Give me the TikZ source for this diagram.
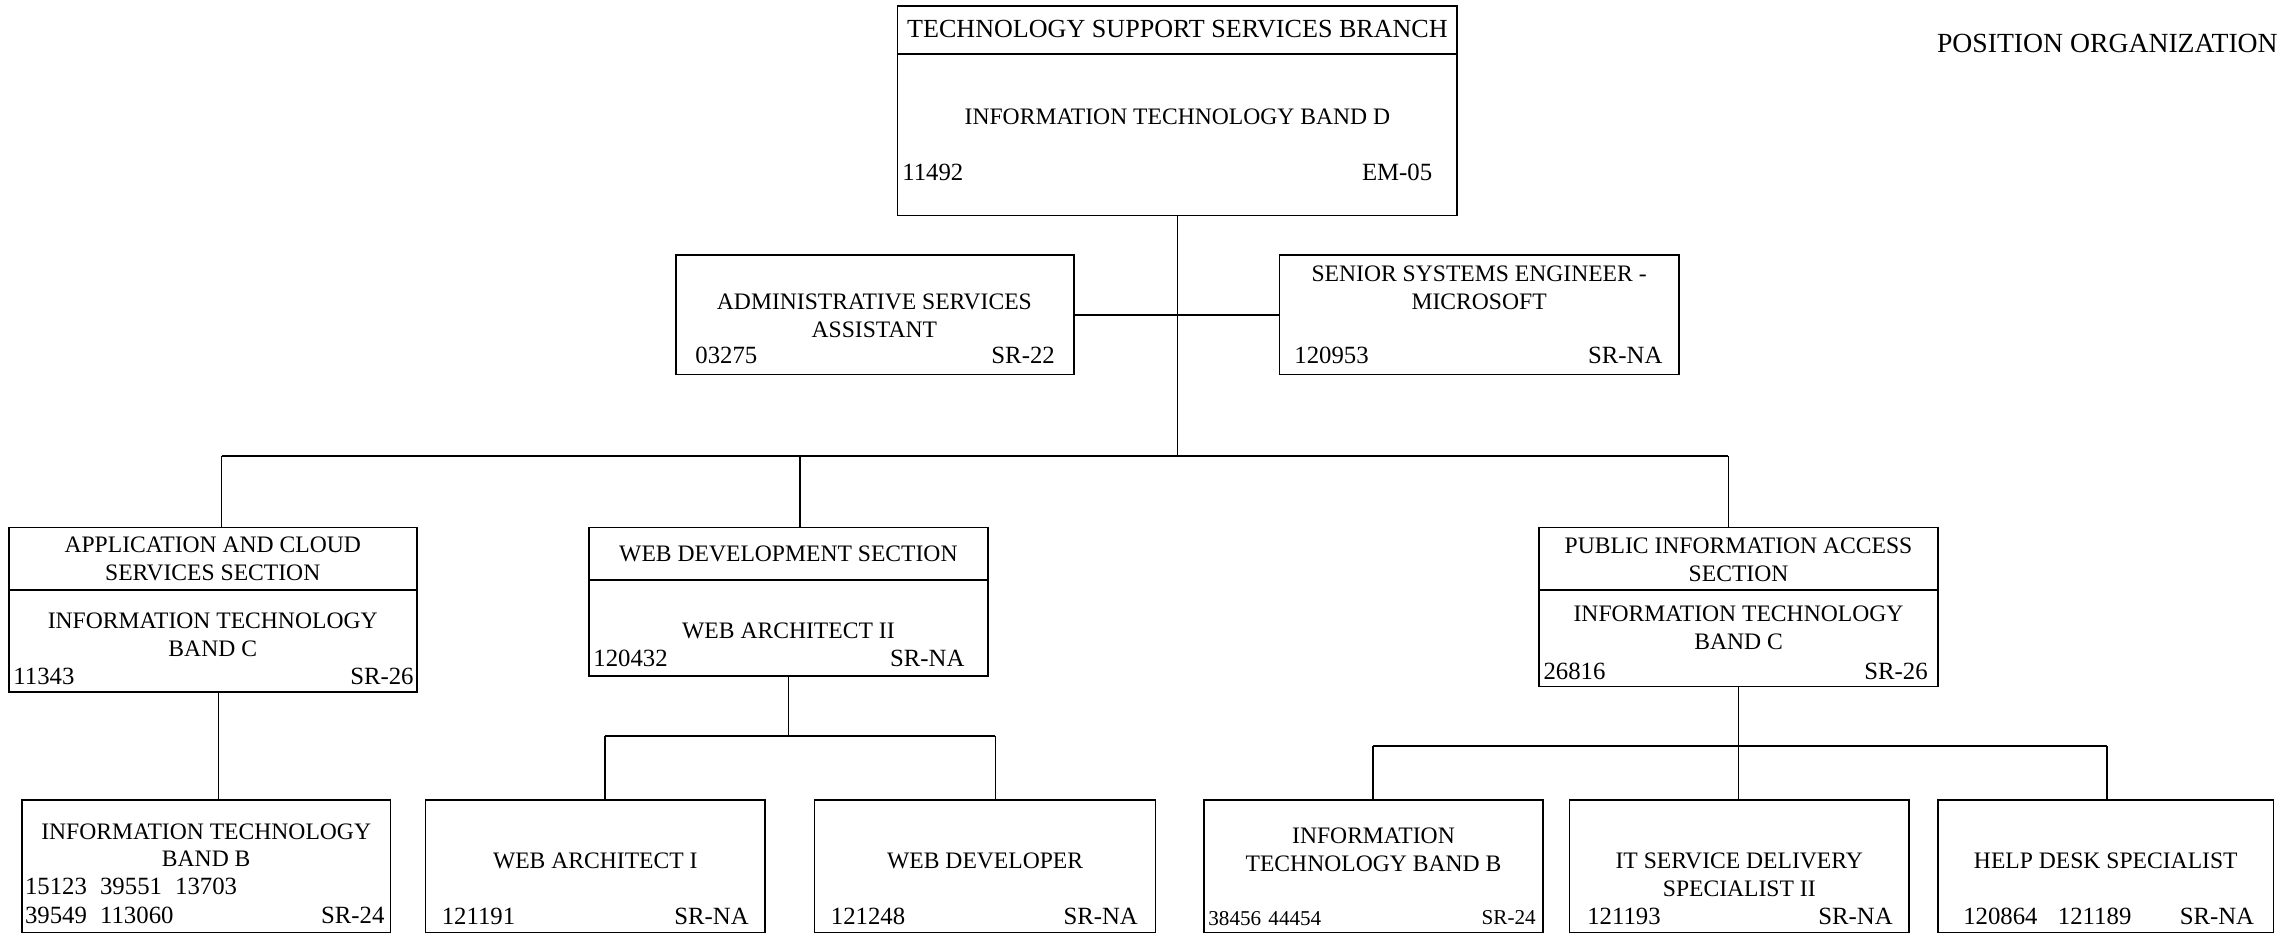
\documentclass[tikz,border=0pt]{standalone}
\usepackage{fontspec}
\setmainfont{Liberation Serif}
\tikzset{
  box/.style={draw, line width=1.1pt, inner sep=0pt, outer sep=0pt, rectangle},
  conn/.style={line width=1.1pt},
  txt/.style={inner sep=0pt, align=center, font=\fontsize{16.2}{19}\selectfont},
  ttl/.style={inner sep=0pt, align=center, font=\fontsize{17.9}{19}\selectfont},
  num/.style={inner sep=0pt, font=\fontsize{17}{19}\selectfont},
  smallnum/.style={inner sep=0pt, font=\fontsize{14.5}{17}\selectfont},
}
\newcommand\orgbox[5]{%
  \node[box, minimum width={(#4-#2)*1pt}, minimum height={(#5-#3)*1pt}]
    (#1) at ({(#2+#4)/2},{(#3+#5)/2}) {};}
\begin{document}
\begin{tikzpicture}[x=1pt, y=-1pt]
\useasboundingbox (0,0) rectangle (1568,642);

% title
\node[inner sep=0pt, anchor=west, font=\fontsize{19}{22}\selectfont] (pos) at (1329,30) {POSITION ORGANIZATION};

% top box
\orgbox{T}{616}{4}{1000}{148}
\draw[conn] (T.west |- 0,37) -- (T.east |- 0,37);
\node[ttl] (Tt) at (808,20) {TECHNOLOGY SUPPORT SERVICES BRANCH};
\node[txt] (Tm) at (808,80) {INFORMATION TECHNOLOGY BAND D};
\node[num, anchor=west] (Tn) at (619,118) {11492};
\node[num, anchor=east] (Tg) at (983,118) {EM-05};

% staff boxes
\orgbox{A}{464}{175}{737}{257}
\node[txt] (At) at (600,216.5) {ADMINISTRATIVE SERVICES\\ASSISTANT};
\node[num, anchor=west] (An) at (477,244) {03275};
\node[num, anchor=east] (Ag) at (724,244) {SR-22};

\orgbox{S}{878}{175}{1152}{257}
\node[txt] (St) at (1015,197.5) {SENIOR SYSTEMS ENGINEER -\\MICROSOFT};
\node[num, anchor=west] (Sn) at (888,244) {120953};
\node[num, anchor=east] (Sg) at (1141,244) {SR-NA};

\draw[conn] (A.east) -- (S.west);

% sections
\orgbox{C1}{6}{362}{286}{475}
\draw[conn] (C1.west |- 0,405) -- (C1.east |- 0,405);
\node[txt] (C1t) at (146,383.5) {APPLICATION AND CLOUD\\SERVICES SECTION};
\node[txt] (C1m) at (146,435.5) {INFORMATION TECHNOLOGY\\BAND C};
\node[num, anchor=west] (C1n) at (9,464) {11343};
\node[num, anchor=east] (C1g) at (284,464) {SR-26};

\orgbox{C2}{404}{362}{678}{464}
\draw[conn] (C2.west |- 0,398) -- (C2.east |- 0,398);
\node[txt] (C2t) at (541,380) {WEB DEVELOPMENT SECTION};
\node[txt] (C2m) at (541,433) {WEB ARCHITECT II};
\node[num, anchor=west] (C2n) at (407,452) {120432};
\node[num, anchor=east] (C2g) at (662,452) {SR-NA};

\orgbox{C3}{1056}{362}{1330}{471}
\draw[conn] (C3.west |- 0,405) -- (C3.east |- 0,405);
\node[txt] (C3t) at (1193,384) {PUBLIC INFORMATION ACCESS\\SECTION};
\node[txt] (C3m) at (1193,431) {INFORMATION TECHNOLOGY\\BAND C};
\node[num, anchor=west] (C3n) at (1059,461) {26816};
\node[num, anchor=east] (C3g) at (1323,461) {SR-26};

% bottom boxes
\orgbox{B1}{15}{549}{268}{640}
\node[txt] (B1t) at (141.5,580) {INFORMATION TECHNOLOGY\\BAND B};
\node[num, anchor=west] (B1n) at (17,608) {15123\hspace{9pt}39551\hspace{9pt}13703};
\node[num, anchor=west] (B1m) at (17,628) {39549\hspace{9pt}113060};
\node[num, anchor=east] (B1g) at (264,628) {SR-24};

\orgbox{W1}{292}{549}{525}{640}
\node[txt] (W1t) at (408.5,591) {WEB ARCHITECT I};
\node[num, anchor=west] (W1n) at (303,629) {121191};
\node[num, anchor=east] (W1g) at (514,629) {SR-NA};

\orgbox{W2}{559}{549}{793}{640}
\node[txt] (W2t) at (676,591) {WEB DEVELOPER};
\node[num, anchor=west] (W2n) at (570,629) {121248};
\node[num, anchor=east] (W2g) at (781,629) {SR-NA};

\orgbox{P1}{826}{549}{1059}{640}
\node[txt] (P1t) at (942.5,583) {INFORMATION\\TECHNOLOGY BAND B};
\node[smallnum, anchor=west] (P1n) at (829,630) {38456\hspace{5pt}44454};
\node[smallnum, anchor=east] (P1g) at (1054,630) {SR-24};

\orgbox{P2}{1077}{549}{1310}{640}
\node[txt] (P2t) at (1193.5,600.5) {IT SERVICE DELIVERY\\SPECIALIST II};
\node[num, anchor=west] (P2n) at (1089,629) {121193};
\node[num, anchor=east] (P2g) at (1299,629) {SR-NA};

\orgbox{P3}{1330}{549}{1560}{640}
\node[txt] (P3t) at (1445,591) {HELP DESK SPECIALIST};
\node[num, anchor=west] (P3n) at (1347,629) {120864\hspace{14pt}121189};
\node[num, anchor=east] (P3g) at (1547,629) {SR-NA};

% connectors
\coordinate (tj) at (808,313);
\coordinate (busL) at (152,313);
\coordinate (busM) at (549,313);
\coordinate (busR) at (1186,313);
\draw[conn] (T.south) -- (tj);
\draw[conn] (busL) -- (busR);
\draw[conn] (busL) -- (busL |- C1.north);
\draw[conn] (busM) -- (busM |- C2.north);
\draw[conn] (busR) -- (busR |- C3.north);

\coordinate (c1d) at (150,475);
\draw[conn] (C1.south -| c1d) -- (c1d |- B1.north);

\coordinate (wj) at (541,505);
\coordinate (wl) at (415,505);
\coordinate (wr) at (683,505);
\draw[conn] (C2.south -| wj) -- (wj);
\draw[conn] (wl) -- (wr);
\draw[conn] (wl) -- (wl |- W1.north);
\draw[conn] (wr) -- (wr |- W2.north);

\coordinate (pj) at (1193,512);
\coordinate (pl) at (942,512);
\coordinate (pr) at (1446,512);
\draw[conn] (C3.south -| pj) -- (pj);
\draw[conn] (pl) -- (pr);
\draw[conn] (pl) -- (pl |- P1.north);
\draw[conn] (pj) -- (pj |- P2.north);
\draw[conn] (pr) -- (pr |- P3.north);
\end{tikzpicture}
\end{document}
